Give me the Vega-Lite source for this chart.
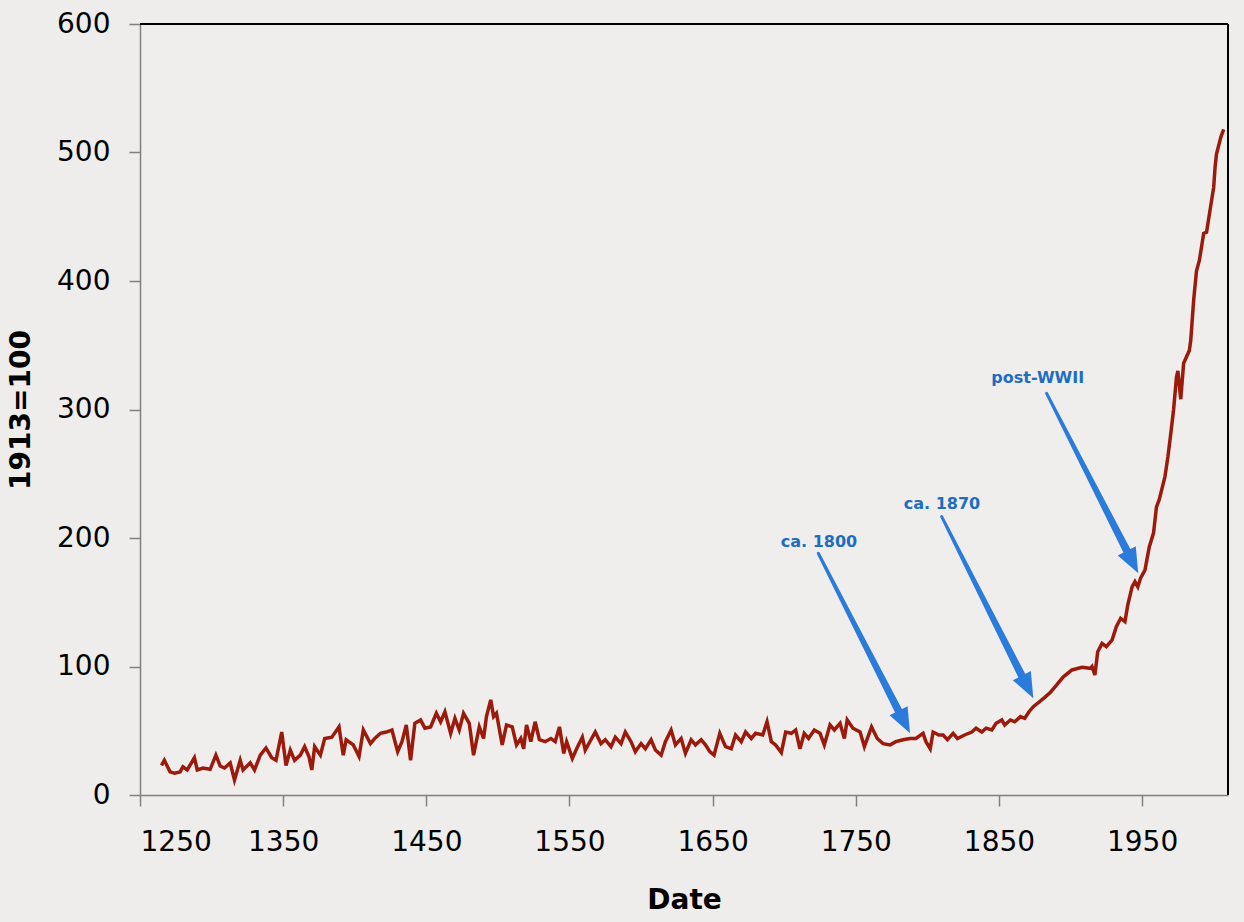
{
  "$schema": "https://vega.github.io/schema/vega-lite/v6.json",
  "width": 1088,
  "height": 771,
  "autosize": "none",
  "padding": {"left": 140, "top": 24, "right": 16, "bottom": 127},
  "background": "#efedeb",
  "config": {"view": {"stroke": null, "fill": "#f0eeec"}, "font": "DejaVu Sans"},
  "datasets": {
    "series": [
      {"year":1265,"value":23},{"year":1267,"value":27},{"year":1271,"value":18},{"year":1274,"value":17},{"year":1278,"value":18},{"year":1280,"value":22},{"year":1283,"value":19.5},{"year":1288,"value":29},{"year":1290,"value":19.5},{"year":1294,"value":21},{"year":1299,"value":20},{"year":1303,"value":31},{"year":1306,"value":22.6},{"year":1309,"value":21},{"year":1313,"value":25},{"year":1316,"value":11.7},{"year":1320,"value":27},{"year":1322,"value":19.5},{"year":1327,"value":25},{"year":1330,"value":19.5},{"year":1334,"value":31},{"year":1338,"value":36.6},{"year":1342,"value":29},{"year":1345,"value":27},{"year":1349,"value":49},{"year":1352,"value":23},{"year":1355,"value":35},{"year":1358,"value":27},{"year":1362,"value":31},{"year":1365,"value":37.6},{"year":1368,"value":30},{"year":1370,"value":19.5},{"year":1372,"value":37.6},{"year":1376,"value":31},{"year":1379,"value":44},{"year":1384,"value":45},{"year":1389,"value":53},{"year":1392,"value":31},{"year":1394,"value":43},{"year":1399,"value":39},{"year":1403,"value":30},{"year":1406,"value":50.6},{"year":1411,"value":40},{"year":1414,"value":44},{"year":1418,"value":48},{"year":1422,"value":49},{"year":1426,"value":50.6},{"year":1430,"value":33.7},{"year":1433,"value":41.5},{"year":1436,"value":54.5},{"year":1439,"value":27},{"year":1442,"value":55.8},{"year":1446,"value":58.4},{"year":1449,"value":52},{"year":1453,"value":53},{"year":1457,"value":63.6},{"year":1460,"value":57},{"year":1463,"value":64.8},{"year":1467,"value":48},{"year":1470,"value":59.7},{"year":1473,"value":50.6},{"year":1476,"value":63.6},{"year":1480,"value":55.8},{"year":1483,"value":31},{"year":1487,"value":53},{"year":1490,"value":44},{"year":1492,"value":61},{"year":1495,"value":74},{"year":1497,"value":61},{"year":1499,"value":63.6},{"year":1503,"value":39},{"year":1506,"value":54.5},{"year":1510,"value":53},{"year":1513,"value":39},{"year":1516,"value":44},{"year":1518,"value":36},{"year":1520,"value":54.5},{"year":1523,"value":41.5},{"year":1526,"value":57},{"year":1529,"value":43},{"year":1533,"value":41.5},{"year":1537,"value":44},{"year":1540,"value":41.5},{"year":1543,"value":53},{"year":1546,"value":32.4},{"year":1548,"value":41.5},{"year":1552,"value":28.5},{"year":1555,"value":36},{"year":1559,"value":45},{"year":1561,"value":35},{"year":1565,"value":43},{"year":1568,"value":49},{"year":1572,"value":40},{"year":1575,"value":43},{"year":1579,"value":37.6},{"year":1582,"value":45},{"year":1586,"value":40},{"year":1589,"value":49},{"year":1593,"value":41.5},{"year":1596,"value":33.7},{"year":1600,"value":40},{"year":1603,"value":36},{"year":1607,"value":43},{"year":1610,"value":35},{"year":1614,"value":31},{"year":1617,"value":41.5},{"year":1621,"value":50.6},{"year":1624,"value":39},{"year":1628,"value":44},{"year":1631,"value":32.4},{"year":1635,"value":43},{"year":1638,"value":39},{"year":1642,"value":43},{"year":1645,"value":39},{"year":1648,"value":33.7},{"year":1651,"value":31},{"year":1655,"value":48},{"year":1659,"value":37.6},{"year":1663,"value":36},{"year":1666,"value":46.7},{"year":1670,"value":41.5},{"year":1673,"value":49},{"year":1677,"value":44},{"year":1680,"value":48},{"year":1685,"value":46.7},{"year":1688,"value":57},{"year":1691,"value":41.5},{"year":1694,"value":39},{"year":1698,"value":33},{"year":1701,"value":49},{"year":1705,"value":48},{"year":1708,"value":50.6},{"year":1711,"value":36},{"year":1714,"value":48},{"year":1717,"value":44},{"year":1721,"value":50.6},{"year":1725,"value":48},{"year":1728,"value":39},{"year":1732,"value":54.5},{"year":1735,"value":50.6},{"year":1739,"value":55.8},{"year":1742,"value":44},{"year":1744,"value":58.4},{"year":1748,"value":52},{"year":1753,"value":49},{"year":1756,"value":37.6},{"year":1761,"value":53},{"year":1765,"value":44},{"year":1769,"value":40},{"year":1774,"value":39},{"year":1778,"value":41.5},{"year":1783,"value":43},{"year":1788,"value":44},{"year":1792,"value":44},{"year":1797,"value":48},{"year":1799,"value":41.5},{"year":1802,"value":36},{"year":1804,"value":49},{"year":1808,"value":46.7},{"year":1811,"value":46.7},{"year":1814,"value":43},{"year":1818,"value":48},{"year":1821,"value":44},{"year":1826,"value":46.7},{"year":1831,"value":49},{"year":1834,"value":52},{"year":1838,"value":49},{"year":1841,"value":52},{"year":1845,"value":50.6},{"year":1848,"value":55.8},{"year":1852,"value":58.4},{"year":1854,"value":54.5},{"year":1858,"value":58.4},{"year":1861,"value":57},{"year":1865,"value":61},{"year":1868,"value":59.7},{"year":1871,"value":64.8},{"year":1874,"value":68.7},{"year":1877,"value":71.4},{"year":1882,"value":76},{"year":1886,"value":80},{"year":1889,"value":84},{"year":1895,"value":92},{"year":1901,"value":97.3},{"year":1908,"value":99.4},{"year":1914,"value":98.6},{"year":1915,"value":100},{"year":1917,"value":93.4},{"year":1919,"value":111.5},{"year":1922,"value":118},{"year":1925,"value":115.4},{"year":1929,"value":120.6},{"year":1932,"value":131},{"year":1935,"value":137.5},{"year":1938,"value":134.9},{"year":1940,"value":147.9},{"year":1943,"value":162},{"year":1945,"value":166},{"year":1947,"value":162},{"year":1949,"value":169},{"year":1952,"value":175},{"year":1955,"value":193},{"year":1958,"value":204},{"year":1960,"value":224},{"year":1962,"value":230},{"year":1966,"value":248},{"year":1968,"value":263},{"year":1970,"value":281},{"year":1972,"value":300},{"year":1974,"value":325},{"year":1975,"value":330},{"year":1977,"value":308},{"year":1979,"value":336},{"year":1983,"value":346},{"year":1984,"value":354},{"year":1986,"value":385},{"year":1988,"value":408},{"year":1990,"value":416},{"year":1993,"value":437},{"year":1995,"value":438},{"year":1997,"value":452},{"year":2000,"value":473},{"year":2001,"value":489},{"year":2002,"value":499},{"year":2005,"value":512},{"year":2007,"value":518}
    ],
    "frame": [{"top": 600, "right": 2010}],
    "shafts": [
      {"arrow":"ca. 1800","t":0,"year":1723.8,"value":188.1},
      {"arrow":"ca. 1800","t":1,"year":1783.1,"value":58.4},
      {"arrow":"ca. 1870","t":0,"year":1810.0,"value":216.6},
      {"arrow":"ca. 1870","t":1,"year":1869.2,"value":85.7},
      {"arrow":"post-WWII","t":0,"year":1883.3,"value":312.6},
      {"arrow":"post-WWII","t":1,"year":1942.6,"value":183.0}
    ],
    "heads": [
      {"arrow":"ca. 1800","year":1787.9,"value":48.0},
      {"arrow":"ca. 1870","year":1874.0,"value":75.3},
      {"arrow":"post-WWII","year":1947.3,"value":172.5}
    ],
    "labels": [
      {"label":"ca. 1800","year":1724.3,"value":197.1},
      {"label":"ca. 1870","year":1810.2,"value":226.5},
      {"label":"post-WWII","year":1877.1,"value":324.5}
    ]
  },
  "layer": [
    {
      "data": {"name": "series"},
      "mark": {"type": "line", "color": "#9c1a0c", "strokeWidth": 3.5},
      "encoding": {
        "x": {
          "field": "year", "type": "quantitative",
          "scale": {"domain": [1250, 2010], "nice": false, "zero": false},
          "axis": {
            "title": "Date",
            "values": [1250, 1350, 1450, 1550, 1650, 1750, 1850, 1950],
            "format": "d",
            "grid": false,
            "labelFontSize": 28,
            "labelColor": "#000000",
            "labelPadding": 22,
            "tickColor": "#808080",
            "tickSize": 11,
            "tickWidth": 1.5,
            "domainColor": "#808080",
            "domainWidth": 1.5,
            "titleFontSize": 28,
            "titleFontWeight": "bold",
            "titleColor": "#000000",
            "titleBaseline": "alphabetic",
            "titleY": 113
          }
        },
        "y": {
          "field": "value", "type": "quantitative",
          "scale": {"domain": [0, 600], "nice": false},
          "axis": {
            "title": "1913=100",
            "values": [0, 100, 200, 300, 400, 500, 600],
            "grid": false,
            "labelFontSize": 28,
            "labelColor": "#000000",
            "labelPadding": 19,
            "tickColor": "#808080",
            "tickSize": 11,
            "tickWidth": 1.5,
            "domainColor": "#808080",
            "domainWidth": 1.5,
            "titleFontSize": 28,
            "titleFontWeight": "bold",
            "titleColor": "#000000",
            "titleX": -119,
            "titleBaseline": "middle"
          }
        }
      }
    },
    {
      "data": {"name": "frame"},
      "mark": {"type": "rule", "color": "#000000", "strokeWidth": 2},
      "encoding": {"y": {"field": "top", "type": "quantitative", "scale": {"domain": [0, 600], "nice": false}}}
    },
    {
      "data": {"name": "frame"},
      "mark": {"type": "rule", "color": "#000000", "strokeWidth": 2},
      "encoding": {"x": {"field": "right", "type": "quantitative", "scale": {"domain": [1250, 2010], "nice": false, "zero": false}}}
    },
    {
      "data": {"name": "shafts"},
      "mark": {"type": "trail", "color": "#2a7bdc"},
      "encoding": {
        "x": {"field": "year", "type": "quantitative", "scale": {"domain": [1250, 2010], "nice": false, "zero": false}},
        "y": {"field": "value", "type": "quantitative", "scale": {"domain": [0, 600], "nice": false}},
        "detail": {"field": "arrow"},
        "order": {"field": "t"},
        "size": {"field": "t", "type": "quantitative", "scale": {"domain": [0, 1], "range": [3, 8]}, "legend": null}
      }
    },
    {
      "data": {"name": "heads"},
      "mark": {"type": "point", "filled": true, "color": "#2a7bdc", "opacity": 1, "size": 640, "angle": -27, "shape": "M0,0 L-0.8,-2 L0.8,-2 Z", "strokeWidth": 0},
      "encoding": {
        "x": {"field": "year", "type": "quantitative", "scale": {"domain": [1250, 2010], "nice": false, "zero": false}},
        "y": {"field": "value", "type": "quantitative", "scale": {"domain": [0, 600], "nice": false}}
      }
    },
    {
      "data": {"name": "labels"},
      "mark": {"type": "text", "fontWeight": "bold", "fontSize": 16, "color": "#1f6dc0", "align": "center", "baseline": "middle"},
      "encoding": {
        "x": {"field": "year", "type": "quantitative", "scale": {"domain": [1250, 2010], "nice": false, "zero": false}},
        "y": {"field": "value", "type": "quantitative", "scale": {"domain": [0, 600], "nice": false}},
        "text": {"field": "label"}
      }
    }
  ]
}
